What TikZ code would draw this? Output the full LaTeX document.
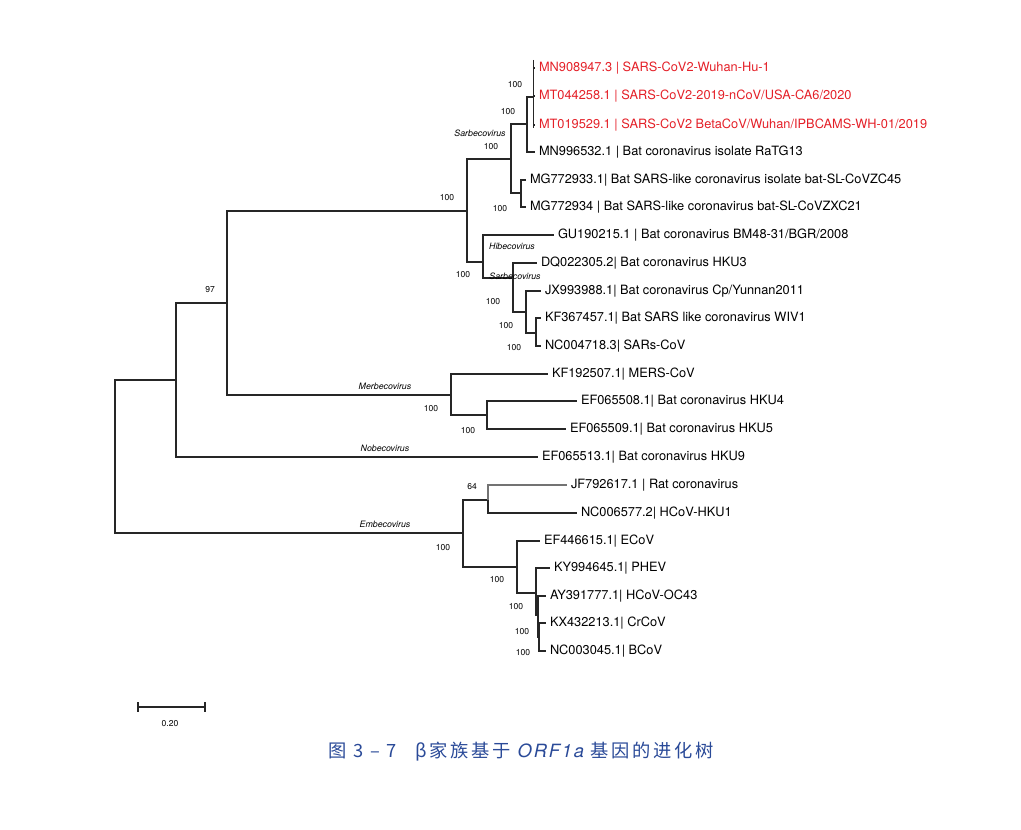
\documentclass[tikz,border=0pt]{standalone}
\usepackage{fontspec}
\setmainfont{TeX Gyre Heros}
\newfontfamily\cjk[LetterSpace=15]{Noto Sans CJK SC}
\newfontfamily\capsf[LetterSpace=10]{TeX Gyre Heros}
\definecolor{redleaf}{RGB}{228,32,40}
\definecolor{capblue}{RGB}{42,74,152}
\tikzset{
    branch/.style={line width=0.9pt, black!85},
    leaf/.style={anchor=west, inner xsep=2.8pt, inner ysep=1pt, font=\fontsize{9.6}{10}\selectfont},
    boot/.style={inner sep=0pt, font=\fontsize{6.4}{7}\selectfont},
    clade/.style={inner sep=0pt, font=\fontsize{6.6}{7}\selectfont\itshape},
}
\begin{document}
\begin{tikzpicture}[x=0.75pt, y=-0.75pt]
    \useasboundingbox (0,0) rectangle (1021,830);
    \begin{scope}
        \clip (0,0) rectangle (926,830);

        % 叶子
        \node[leaf, text=redleaf] (l1) at (535,68) {MN908947.3 | SARS-CoV2-Wuhan-Hu-1};
        \node[leaf, text=redleaf] (l2) at (535,96) {MT044258.1 | SARS-CoV2-2019-nCoV/USA-CA6/2020};
        \node[leaf, text=redleaf] (l3) at (535,125) {MT019529.1 | SARS-CoV2 BetaCoV/Wuhan/IPBCAMS-WH-01/2019};
        \node[leaf] (l4) at (535,152) {MN996532.1 | Bat coronavirus isolate RaTG13};
        \node[leaf] (l5) at (526,180) {MG772933.1| Bat SARS-like coronavirus isolate bat-SL-CoVZC45};
        \node[leaf] (l6) at (526,207) {MG772934 | Bat SARS-like coronavirus bat-SL-CoVZXC21};
        \node[leaf] (l7) at (554,235) {GU190215.1 | Bat coronavirus BM48-31/BGR/2008};
        \node[leaf] (l8) at (537,263) {DQ022305.2| Bat coronavirus HKU3};
        \node[leaf] (l9) at (541,291) {JX993988.1| Bat coronavirus Cp/Yunnan2011};
        \node[leaf] (l10) at (541,318) {KF367457.1| Bat SARS like coronavirus WIV1};
        \node[leaf] (l11) at (541,346) {NC004718.3| SARs-CoV};
        \node[leaf] (l12) at (548,374) {KF192507.1| MERS-CoV};
        \node[leaf] (l13) at (577,401) {EF065508.1| Bat coronavirus HKU4};
        \node[leaf] (l14) at (566,429) {EF065509.1| Bat coronavirus HKU5};
        \node[leaf] (l15) at (538,457) {EF065513.1| Bat coronavirus HKU9};
        \node[leaf] (l16) at (567,485) {JF792617.1 | Rat coronavirus};
        \node[leaf] (l17) at (577,513) {NC006577.2| HCoV-HKU1};
        \node[leaf] (l18) at (540,541) {EF446615.1| ECoV};
        \node[leaf] (l19) at (550,568) {KY994645.1| PHEV};
        \node[leaf] (l20) at (546,596) {AY391777.1| HCoV-OC43};
        \node[leaf] (l21) at (546,623) {KX432213.1| CrCoV};
        \node[leaf] (l22) at (546,651) {NC003045.1| BCoV};
    \end{scope}

    % 内部节点
    \coordinate (nRed) at (533.5,97);
    \coordinate (nB) at (527,124);
    \coordinate (nC) at (511,159);
    \coordinate (nD) at (521,193);
    \coordinate (nE) at (467,211);
    \coordinate (nF) at (483,262);
    \coordinate (nH) at (513,278);
    \coordinate (nI) at (526,312);
    \coordinate (nJ) at (536,333);
    \coordinate (nG) at (227,303);
    \coordinate (nL) at (451,395);
    \coordinate (nM) at (487,415);
    \coordinate (nK) at (176,380);
    \coordinate (nRoot) at (115,456);
    \coordinate (nO) at (463,533);
    \coordinate (nP) at (488,500);
    \coordinate (nQ) at (517,567);
    \coordinate (nS) at (536,593);
    \coordinate (nT) at (538,615);
    \coordinate (nU) at (539,637);

    % Sarbecovirus / Hibecovirus
    \draw[branch, line width=1.4pt] (nRed) ++(0,-37) -- ++(0,68);
    \draw[branch] (nRed) |- (l1.west);
    \draw[branch] (nRed) |- (l2.west);
    \draw[branch] (nRed) |- (l3.west);
    \draw[branch] (nB) |- (nRed);
    \draw[branch] (nB) |- (l4.west);
    \draw[branch] (nC) |- (nB);
    \draw[branch] (nC) |- (nD);
    \draw[branch] (nD) |- (l5.west);
    \draw[branch] (nD) |- (l6.west);
    \draw[branch] (nE) |- (nC);
    \draw[branch] (nE) |- (nF);
    \draw[branch] (nF) |- (l7.west);
    \draw[branch] (nF) |- (nH);
    \draw[branch] (nH) |- (l8.west);
    \draw[branch] (nH) |- (nI);
    \draw[branch] (nI) |- (l9.west);
    \draw[branch] (nI) |- (nJ);
    \draw[branch] (nJ) |- (l10.west);
    \draw[branch] (nJ) |- (l11.west);

    % Merbecovirus / Nobecovirus
    \draw[branch] (nG) |- (nE);
    \draw[branch] (nG) |- (nL);
    \draw[branch] (nL) |- (l12.west);
    \draw[branch] (nL) |- (nM);
    \draw[branch] (nM) |- (l13.west);
    \draw[branch] (nM) |- (l14.west);
    \draw[branch] (nK) |- (nG);
    \draw[branch] (nK) |- (l15.west);
    \draw[branch] (nRoot) |- (nK);

    % Embecovirus
    \draw[branch] (nRoot) |- (nO);
    \draw[branch] (nO) |- (nP);
    \draw[branch] (nO) |- (nQ);
    \draw[branch, black!55] (nP) |- (l16.west);
    \draw[branch] (nP) |- (l17.west);
    \draw[branch] (nQ) |- (l18.west);
    \draw[branch] (nQ) |- (nS);
    \draw[branch] (nS) |- (l19.west);
    \draw[branch] (nS) |- (nT);
    \draw[branch, line width=1.3pt] (nT) |- (l20.west);
    \draw[branch, line width=1.3pt] (nT) |- (nU);
    \draw[branch] (nU) |- (l21.west);
    \draw[branch] (nU) |- (l22.west);

    % 支持率
    \node[boot] (b1) at (515,85) {100};
    \node[boot] (b2) at (508,112) {100};
    \node[boot] (b3) at (491,147) {100};
    \node[boot] (b4) at (500,209) {100};
    \node[boot] (b5) at (447,198) {100};
    \node[boot] (b6) at (463,275) {100};
    \node[boot] (b7) at (493,302) {100};
    \node[boot] (b8) at (506,326) {100};
    \node[boot] (b9) at (514,348) {100};
    \node[boot] (b10) at (210,290) {97};
    \node[boot] (b11) at (431,409) {100};
    \node[boot] (b12) at (468,431) {100};
    \node[boot] (b13) at (472,487) {64};
    \node[boot] (b14) at (443,548) {100};
    \node[boot] (b15) at (497,580) {100};
    \node[boot] (b16) at (516,607) {100};
    \node[boot] (b17) at (522,632) {100};
    \node[boot] (b18) at (523,653) {100};

    % 属名
    \node[clade] (g1) at (480,133) {Sarbecovirus};
    \node[clade] (g2) at (512,246) {Hibecovirus};
    \node[clade] (g3) at (515,276) {Sarbecovirus};
    \node[clade] (g4) at (385,386) {Merbecovirus};
    \node[clade] (g5) at (385,448) {Nobecovirus};
    \node[clade] (g6) at (385,524) {Embecovirus};

    % 标尺
    \coordinate (sL) at (138,707);
    \coordinate (sR) at (205,707);
    \draw[branch] (sL) -- (sR);
    \draw[branch] (sL) ++(0,-5) -- ++(0,10);
    \draw[branch] (sR) ++(0,-5) -- ++(0,10);
    \node[boot] (scale) at (170,724) {0.20};

    % 图题
    \node[anchor=west, inner sep=0pt, text=capblue, font=\cjk\fontsize{13.7}{16}\selectfont] (caption) at (328,752)
        {图 3 – 7\quad β家族基于 {\capsf\itshape ORF1a} 基因的进化树};
\end{tikzpicture}
\end{document}
